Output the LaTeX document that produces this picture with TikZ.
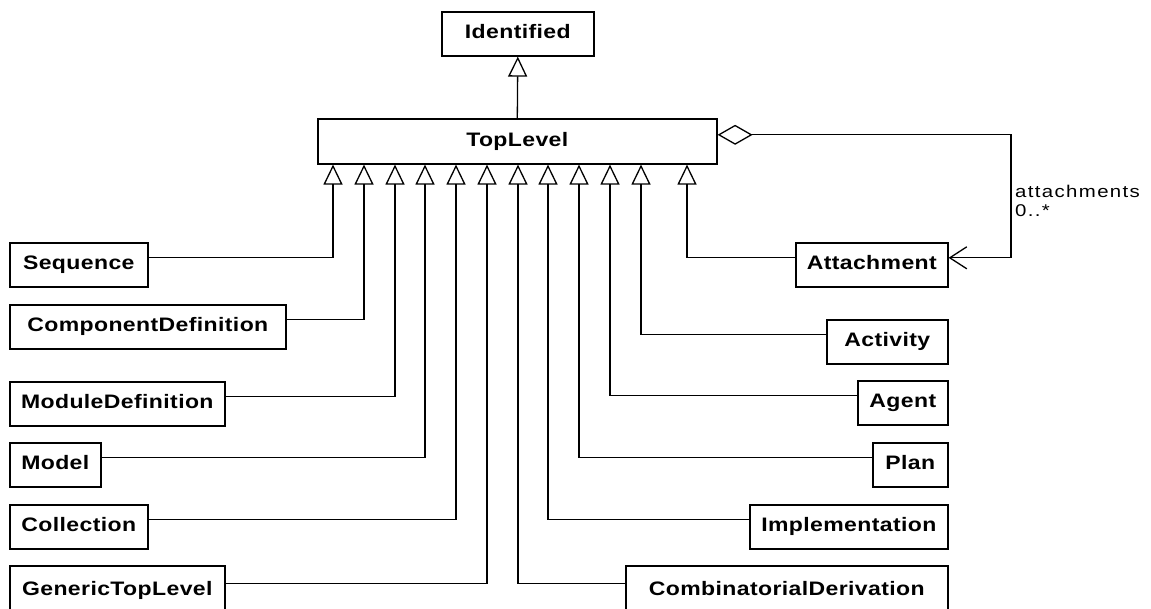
\documentclass[tikz,border=0pt]{standalone}
\usepackage{fontspec}
\setmainfont{Liberation Sans}
\newfontfamily\clsfont[FakeStretch=1.18,LetterSpace=2]{Liberation Sans}
\newfontfamily\rolefont[FakeStretch=1.2,LetterSpace=8]{Liberation Sans}
\usetikzlibrary{arrows.meta}

\tikzset{
  cls/.style={draw, line width=1.6pt, anchor=north west, minimum height=44pt,
    inner sep=0pt, text height=14pt, text depth=4pt,
    font=\clsfont\bfseries\fontsize{19.5}{22}\selectfont},
  gen/.style={line width=1.3pt,
    -{Triangle[open, width=19pt, length=20pt]}},
}

\begin{document}
\begin{tikzpicture}[x=1pt,y=-1pt]
    \useasboundingbox (0,0) rectangle (1151,609);
    % top of the hierarchy
    \node[cls, minimum width=152pt] (idf) at (441,11) {Identified};
    \node[cls, minimum width=399pt, minimum height=45pt] (top) at (317,118) {TopLevel};
    \draw[gen] (top.north) -- (idf.south);

    % classes on the left
    \node[cls, minimum width=138pt] (seq) at (9,242) {Sequence};
    \node[cls, minimum width=276pt] (cd)  at (9,304) {ComponentDefinition};
    \node[cls, minimum width=215pt] (md)  at (9,381) {ModuleDefinition};
    \node[cls, minimum width=91pt]  (mod) at (9,442) {Model};
    \node[cls, minimum width=138pt] (col) at (9,504) {Collection};
    \node[cls, minimum width=215pt, minimum height=50pt] (gtl) at (9,565) {GenericTopLevel};

    % classes on the right
    \node[cls, minimum width=152pt] (att) at (795,242) {Attachment};
    \node[cls, minimum width=121pt] (act) at (826,319) {Activity};
    \node[cls, minimum width=90pt]  (agt) at (857,380) {Agent};
    \node[cls, minimum width=75pt]  (pln) at (872,442) {Plan};
    \node[cls, minimum width=198pt] (imp) at (749,504) {Implementation};
    \node[cls, minimum width=322pt, minimum height=50pt] (cmb) at (625,565) {CombinatorialDerivation};

    % generalisations
    \draw[gen] ([yshift=7pt]seq.east) -| (333,0 |- top.south);
    \draw[gen] ([yshift=7pt]cd.east)  -| (364,0 |- top.south);
    \draw[gen] ([yshift=7pt]md.east)  -| (395,0 |- top.south);
    \draw[gen] ([yshift=7pt]mod.east) -| (425,0 |- top.south);
    \draw[gen] ([yshift=7pt]col.east) -| (456,0 |- top.south);
    \draw[gen] ([yshift=7pt]gtl.east) -| (487,0 |- top.south);
    \draw[gen] ([yshift=7pt]cmb.west) -| (518,0 |- top.south);
    \draw[gen] ([yshift=7pt]imp.west) -| (548,0 |- top.south);
    \draw[gen] ([yshift=7pt]pln.west) -| (579,0 |- top.south);
    \draw[gen] ([yshift=7pt]agt.west) -| (610,0 |- top.south);
    \draw[gen] ([yshift=7pt]act.west) -| (641,0 |- top.south);
    \draw[gen] ([yshift=7pt]att.west) -| (687,0 |- top.south);

    % aggregation
    \coordinate (turn) at (1011,257);
    \draw[line width=1.3pt, {Diamond[open, length=35pt, width=20pt]}-{Straight Barb[length=17pt, width=22pt]}]
      ([yshift=6.5pt]top.east) -| (turn) |- ([yshift=7pt]att.east);
    \node[anchor=north west, align=left, inner sep=0pt,
      font=\rolefont\fontsize{17}{19}\selectfont] (role) at (1015,185)
      {attachments\\0..*};
\end{tikzpicture}
\end{document}
